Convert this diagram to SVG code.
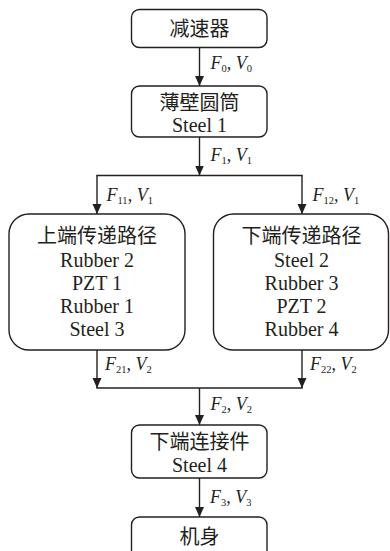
<svg xmlns="http://www.w3.org/2000/svg" width="390" height="551" viewBox="0 0 390 551">
<defs>
<style>
.box{fill:#fff;stroke:#231f20;stroke-width:1.4}
.ln{fill:none;stroke:#231f20;stroke-width:1.4}
.cn{font-family:"Noto Sans CJK SC",sans-serif;font-size:20px;fill:#231f20;text-anchor:middle}
.en{font-family:"Liberation Serif","Times New Roman",serif;font-size:20px;fill:#231f20;text-anchor:middle}
.lb{font-family:"Liberation Serif","Times New Roman",serif;font-size:18px;fill:#231f20}
.i{font-style:italic}
.s{font-size:10.5px}
</style>
<marker id="ah" viewBox="0 0 10 12" refX="10" refY="6" markerWidth="10" markerHeight="12" markerUnits="userSpaceOnUse" orient="auto">
<path d="M0,1.5 L10,6 L0,10.5 Z" fill="#231f20"/>
</marker>
</defs>
<rect width="390" height="551" fill="#fff"/>
<g id="connectors">
<line class="ln" x1="199.5" y1="47.5" x2="199.5" y2="86" marker-end="url(#ah)"/>
<line class="ln" x1="199.5" y1="137" x2="199.5" y2="175.5" marker-end="url(#ah)"/>
<line class="ln" x1="96.3" y1="175.5" x2="302.7" y2="175.5"/>
<line class="ln" x1="97" y1="175.5" x2="97" y2="214" marker-end="url(#ah)"/>
<line class="ln" x1="302" y1="175.5" x2="302" y2="214" marker-end="url(#ah)"/>
<line class="ln" x1="97" y1="350" x2="97" y2="388" marker-end="url(#ah)"/>
<line class="ln" x1="302" y1="350" x2="302" y2="388" marker-end="url(#ah)"/>
<line class="ln" x1="96.3" y1="388" x2="302.7" y2="388"/>
<line class="ln" x1="199.5" y1="388" x2="199.5" y2="425" marker-end="url(#ah)"/>
<line class="ln" x1="199.5" y1="478" x2="199.5" y2="517" marker-end="url(#ah)"/>
<text class="lb" x="210.5" y="68.5"><tspan class="i">F</tspan><tspan class="s" dy="3">0</tspan><tspan dy="-3">, </tspan><tspan class="i">V</tspan><tspan class="s" dy="3">0</tspan></text>
<text class="lb" x="210.5" y="160.5"><tspan class="i">F</tspan><tspan class="s" dy="3">1</tspan><tspan dy="-3">, </tspan><tspan class="i">V</tspan><tspan class="s" dy="3">1</tspan></text>
<text class="lb" x="106.5" y="201"><tspan class="i">F</tspan><tspan class="s" dy="3">11</tspan><tspan dy="-3">, </tspan><tspan class="i">V</tspan><tspan class="s" dy="3">1</tspan></text>
<text class="lb" x="312.5" y="201"><tspan class="i">F</tspan><tspan class="s" dy="3">12</tspan><tspan dy="-3">, </tspan><tspan class="i">V</tspan><tspan class="s" dy="3">1</tspan></text>
<text class="lb" x="105" y="370"><tspan class="i">F</tspan><tspan class="s" dy="3">21</tspan><tspan dy="-3">, </tspan><tspan class="i">V</tspan><tspan class="s" dy="3">2</tspan></text>
<text class="lb" x="310" y="370"><tspan class="i">F</tspan><tspan class="s" dy="3">22</tspan><tspan dy="-3">, </tspan><tspan class="i">V</tspan><tspan class="s" dy="3">2</tspan></text>
<text class="lb" x="210.5" y="409.5"><tspan class="i">F</tspan><tspan class="s" dy="3">2</tspan><tspan dy="-3">, </tspan><tspan class="i">V</tspan><tspan class="s" dy="3">2</tspan></text>
<text class="lb" x="210" y="503"><tspan class="i">F</tspan><tspan class="s" dy="3">3</tspan><tspan dy="-3">, </tspan><tspan class="i">V</tspan><tspan class="s" dy="3">3</tspan></text>
</g>
<g id="reducer">
<rect class="box" x="131.5" y="9.5" width="135.5" height="38" rx="8"/>
<text class="cn" x="199.5" y="35.5">减速器</text>
</g>
<g id="thin-cylinder">
<rect class="box" x="131.5" y="86" width="135.5" height="51" rx="8"/>
<text class="cn" x="199.5" y="109.5">薄壁圆筒</text>
<text class="en" x="199.5" y="132">Steel 1</text>
</g>
<g id="upper-path">
<rect class="box" x="9" y="214" width="176" height="136" rx="20"/>
<text class="cn" x="97" y="242.5">上端传递路径</text>
<text class="en" x="97" y="267">Rubber 2</text>
<text class="en" x="97" y="290">PZT 1</text>
<text class="en" x="97" y="313">Rubber 1</text>
<text class="en" x="97" y="336">Steel 3</text>
</g>
<g id="lower-path">
<rect class="box" x="213.5" y="214" width="175" height="136" rx="20"/>
<text class="cn" x="301.5" y="242.5">下端传递路径</text>
<text class="en" x="301.5" y="267">Steel 2</text>
<text class="en" x="301.5" y="290">Rubber 3</text>
<text class="en" x="301.5" y="313">PZT 2</text>
<text class="en" x="301.5" y="336">Rubber 4</text>
</g>
<g id="lower-connector">
<rect class="box" x="131.5" y="425" width="135.5" height="53" rx="8"/>
<text class="cn" x="199.5" y="449">下端连接件</text>
<text class="en" x="199.5" y="471.5">Steel 4</text>
</g>
<g id="body">
<rect class="box" x="131.5" y="517" width="135.5" height="50" rx="8"/>
<text class="cn" x="199.5" y="544">机身</text>
</g>
</svg>
